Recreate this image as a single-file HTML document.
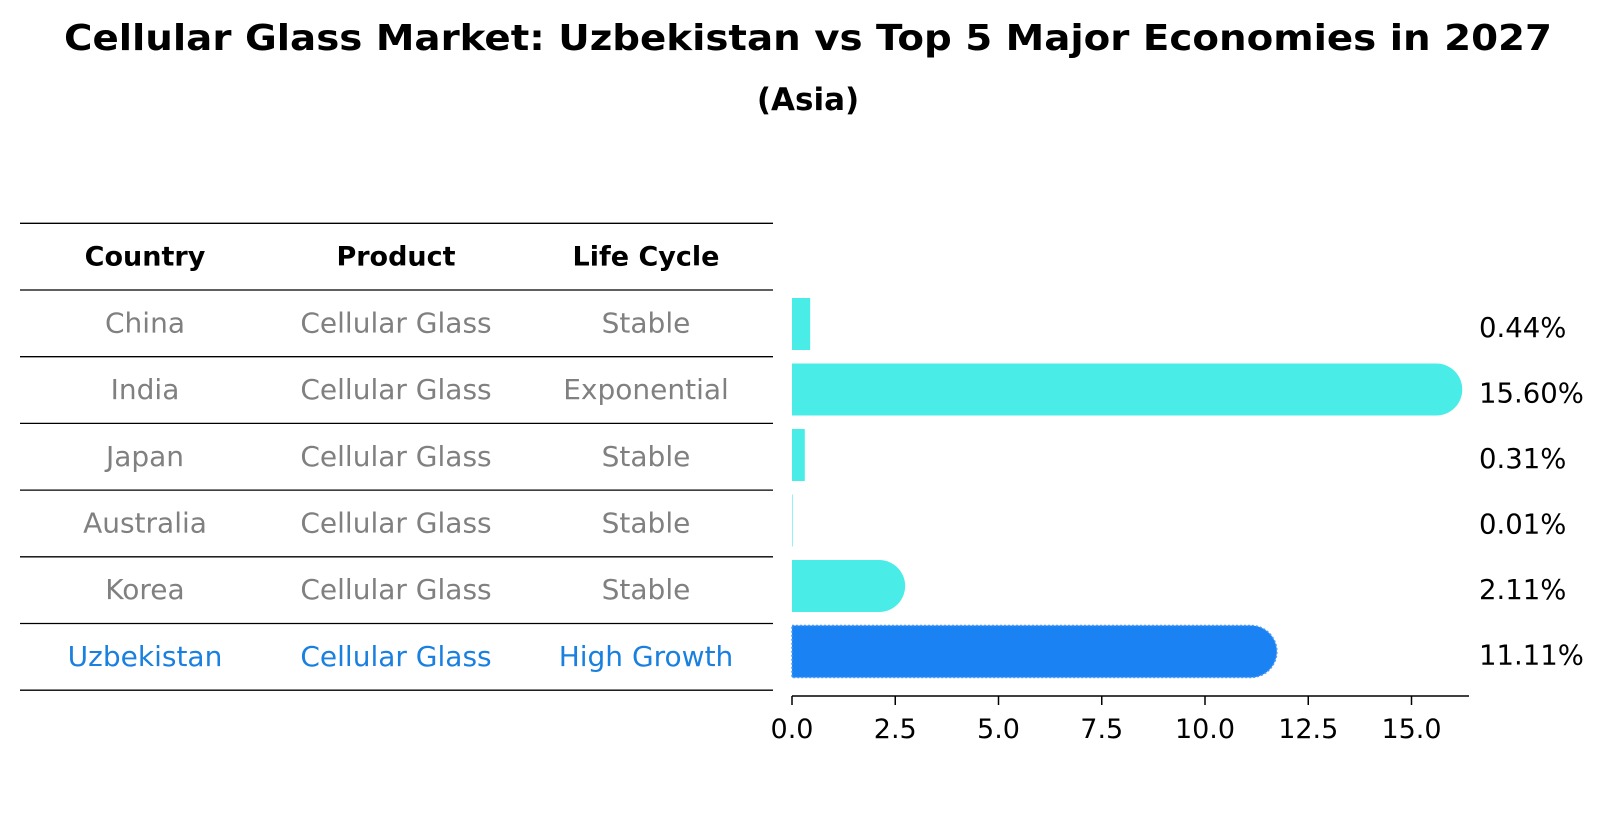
<!DOCTYPE html>
<html><head><meta charset="utf-8"><style>
html,body{margin:0;padding:0;background:#fff;}
svg{display:block;font-family:"DejaVu Sans","Liberation Sans",sans-serif;}
</style></head><body>
<svg id="chart" width="1604" height="823" viewBox="0 0 1604 823" xmlns="http://www.w3.org/2000/svg">
<text x="808" y="50" text-anchor="middle" font-size="36" font-weight="bold" textLength="1488" lengthAdjust="spacingAndGlyphs">Cellular Glass Market: Uzbekistan vs Top 5 Major Economies in 2027</text>
<text x="808" y="110" text-anchor="middle" font-size="31" font-weight="bold">(Asia)</text>
<g id="table"></g>
<g id="bars"></g>
</svg>
<script>
const countries = ["China","India","Japan","Australia","Korea","Uzbekistan"];
const products = ["Cellular Glass","Cellular Glass","Cellular Glass","Cellular Glass","Cellular Glass","Cellular Glass"];
const lifeCycles = ["Stable","Exponential","Stable","Stable","Stable","High Growth"];
const values = [0.44,15.60,0.31,0.01,2.11,11.11];
const valueLabels = ["0.44%","15.60%","0.31%","0.01%","2.11%","11.11%"];
const ticks = [0,2.5,5,7.5,10,12.5,15];
const tickLabels = ["0.0","2.5","5.0","7.5","10.0","12.5","15.0"];
const headers = ["Country","Product","Life Cycle"];

const NS="http://www.w3.org/2000/svg";
function mk(tag, attrs, parent, txt){const e=document.createElementNS(NS,tag);for(const k in attrs)e.setAttribute(k,attrs[k]);if(txt!==undefined)e.textContent=txt;parent.appendChild(e);return e;}
const x0=792, pxPer=41.3;
function xs(v){return x0+v*pxPer;}
const rowTop=223.3, rowH=66.7;
function rowY(i){return rowTop+rowH*(i+1)+rowH/2;}
const colX=[145,396,646];

const tb=document.getElementById('table');
for(let i=0;i<=countries.length+1;i++){
  const l=mk('line',{x1:20,x2:773,y1:rowTop+rowH*i,y2:rowTop+rowH*i,stroke:'#000','stroke-width':1.3},tb);
  
  
}
headers.forEach((h,j)=>{
  const t=mk('text',{x:colX[j],y:rowTop+rowH/2+9,'text-anchor':'middle','font-size':27,'font-weight':'bold',fill:'#000'},tb,h);
  
  
});
countries.forEach((c,i)=>{
  const col = i===countries.length-1 ? '#1a80e0' : '#808080';
  [c,products[i],lifeCycles[i]].forEach((s,j)=>{
    const t=mk('text',{x:colX[j],y:rowY(i)+9,'text-anchor':'middle','font-size':28,fill:col},tb,s);
    
    
  });
});

const bg=document.getElementById('bars');
const barCenter0=324, barStep=65.5, bh=52;
values.forEach((v,i)=>{
  const cy=barCenter0+barStep*i, top=cy-bh/2, r=bh/2;
  const w=xs(v)-x0;
  const fill = i===values.length-1 ? '#1a82f2' : '#4aece8';
  let d;
  if(w>r){
    d=`M${x0},${top} H${xs(v)} A${r},${r} 0 0 1 ${xs(v)},${top+bh} H${x0} Z`;
  } else {
    d=`M${x0},${top} H${x0+Math.max(w,0.6)} V${top+bh} H${x0} Z`;
  }
  const p=mk('path',{d:d,fill:fill},bg);
  if(i===values.length-1){p.setAttribute('stroke','#4a9cf5');p.setAttribute('stroke-width','1.5');p.setAttribute('stroke-dasharray','2 2');}
  
  
  const t=mk('text',{x:1479,y:cy+13,'font-size':27.5,fill:'#000'},bg,valueLabels[i]);
  
  
});
const ax=mk('line',{x1:x0,x2:1469,y1:696,y2:696,stroke:'#000','stroke-width':1.5},bg);


ticks.forEach((tv,i)=>{
  const tk=mk('line',{x1:xs(tv),x2:xs(tv),y1:696,y2:705,stroke:'#000','stroke-width':1.5},bg);
  
  
  const t=mk('text',{x:xs(tv),y:738,'text-anchor':'middle','font-size':27,fill:'#000'},bg,tickLabels[i]);
  
  
});
</script>
</body></html>
